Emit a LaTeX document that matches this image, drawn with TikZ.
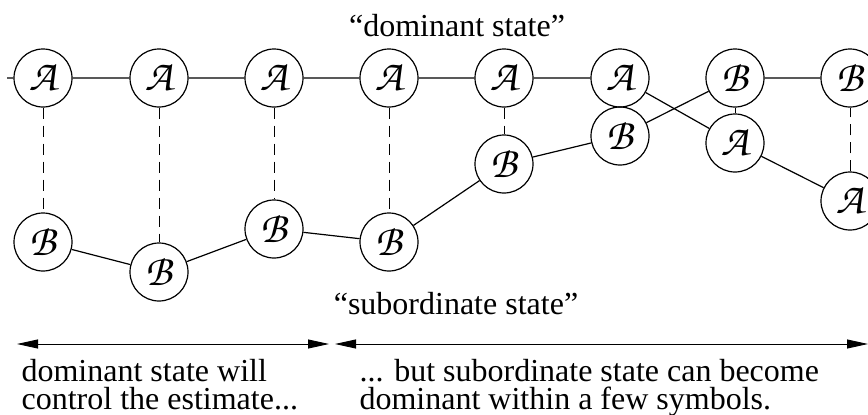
\documentclass[tikz,border=0pt]{standalone}
\usepackage{fontspec}
\setmainfont{Liberation Serif}
\newfontfamily\chorus{TeX Gyre Chorus}
\usetikzlibrary{arrows.meta}
\begin{document}
\begin{tikzpicture}[x=1pt,y=-1pt,line width=1.2pt,
  state/.style={circle,draw,minimum size=58pt,inner sep=0pt,font=\fontsize{44}{44}\chorus},
  link/.style={line width=0.9pt,dash pattern=on 11pt off 7pt},
  span/.style={line width=0.9pt,{Triangle[length=21pt,width=9pt]}-{Triangle[length=21pt,width=9pt]}},
  lbl/.style={inner sep=0pt,align=left,font=\fontsize{32}{28}\selectfont}]
  \useasboundingbox (0,0) rectangle (868,415);
  \clip (0,0) rectangle (868,415);
  % the two state chains
  \foreach \i/\x/\y in {1/43/78,2/159/78,3/274/78,4/389/78,5/504/78,6/620/78,7/735/143,8/850/201}
    \node[state] (a\i) at (\x,\y) {A};
  \foreach \i/\x/\y in {1/43/242,2/159/272,3/274/229,4/389/242,5/504/164,6/620/136,7/735/78,8/850/78}
    \node[state] (b\i) at (\x,\y) {B};
  \coordinate (in) at (7,78);
  \draw (in) -- (a1) -- (a2) -- (a3) -- (a4) -- (a5) -- (a6) -- (a7) -- (a8);
  \draw (b1) -- (b2) -- (b3) -- (b4) -- (b5) -- (b6) -- (b7) -- (b8);
  \foreach \i in {1,2,3,4,5,7,8} \draw[link] (a\i) -- (b\i);
  \node[lbl,anchor=base] (dom) at (457,36) {“dominant state”};
  \node[lbl,anchor=base] (sub) at (456,314) {“subordinate state”};
  % time spans
  \coordinate (l0) at (17,344); \coordinate (l1) at (329,344);
  \coordinate (r0) at (335,344); \coordinate (r1) at (868,344);
  \draw[span] (l0) -- (l1);
  \draw[span] (r0) -- (r1);
  \node[lbl,anchor=base west] (early) at (21,409) {dominant state will\\control the estimate...};
  \node[lbl,anchor=base west] (late) at (359,409) {... but subordinate state can become\\dominant within a few symbols.};
\end{tikzpicture}
\end{document}
